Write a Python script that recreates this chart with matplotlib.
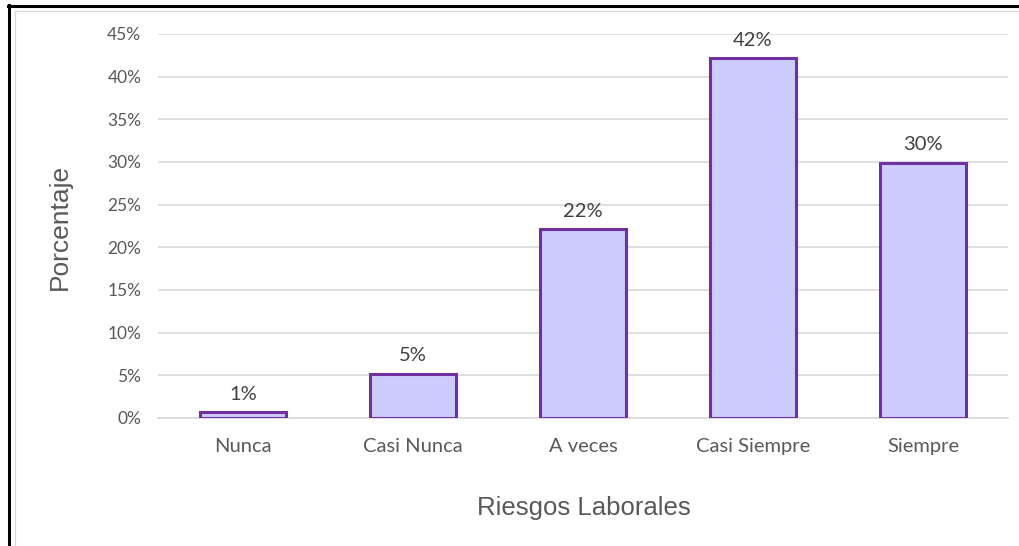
import numpy as np
import matplotlib
matplotlib.use("Agg")
import matplotlib.pyplot as plt
from matplotlib.lines import Line2D
from matplotlib.patches import Rectangle
from matplotlib.ticker import FuncFormatter, MultipleLocator

#====================================================================
# Data
categories = ["Nunca", "Casi Nunca", "A veces", "Casi Siempre", "Siempre"]
values     = [0.7, 5.2, 22.1, 42.2, 29.9]   # percent

# Colours
fill_col  = "#CCCCFF"
edge_col  = "#7030A0"
text_col  = "#595959"
grid_col  = "#D9D9D9"

#====================================================================
fig = plt.figure(figsize=(10.20, 5.46), dpi=100)

# frame of the screenshot: black left/top, light grey chart border
fig.add_artist(Line2D([9/1020, 9/1020], [0, 1-5/546], color="black", lw=2.2,
                      transform=fig.transFigure))
fig.add_artist(Line2D([8/1020, 1], [1-6/546, 1-6/546], color="black", lw=2.2,
                      transform=fig.transFigure))
fig.add_artist(Rectangle((15/1020, -0.05), 1.1, 1-11/546+0.05, fill=False,
                         edgecolor="#D9D9D9", lw=1.0, transform=fig.transFigure))

ax = fig.add_axes([158/1020, 1-418/546, 850/1020, 384/546])

x = np.arange(len(categories))
ax.bar(x, values, width=0.51, color=fill_col, edgecolor=edge_col, linewidth=2.2, zorder=3)

for xi, v in zip(x, values):
    ax.text(xi, v + 1.1, f"{v:.0f}%", ha="center", va="bottom",
            fontsize=14.5, color="#404040", family="Lato")

ax.set_xlim(-0.5, len(categories) - 0.5)
ax.set_ylim(0, 45)
ax.yaxis.set_major_locator(MultipleLocator(5))
ax.yaxis.set_major_formatter(FuncFormatter(lambda v, p: f"{v:.0f}%"))
ax.grid(axis="y", color=grid_col, lw=1.2, zorder=0)
ax.set_axisbelow(True)

ax.set_xticks(x)
ax.set_xticklabels(categories)
for lab in ax.get_yticklabels():
    lab.set_family("Lato")
    lab.set_fontsize(12.5)
    lab.set_color(text_col)
for lab in ax.get_xticklabels():
    lab.set_family("Lato")
    lab.set_fontsize(14.5)
    lab.set_color(text_col)
ax.tick_params(axis="both", length=0)
ax.tick_params(axis="x", pad=14.5)
ax.tick_params(axis="y", pad=12)

for spine in ["top", "right", "left"]:
    ax.spines[spine].set_visible(False)
ax.spines["bottom"].set_color(grid_col)
ax.spines["bottom"].set_linewidth(1.2)

fig.text(60/1020, 1-227/546, "Porcentaje", rotation=90, ha="center", va="center",
         fontsize=19, color=text_col, family="Liberation Sans")
fig.text(584/1020, 1-508/546, "Riesgos Laborales", ha="center", va="center",
         fontsize=18.5, color=text_col, family="Liberation Sans")

plt.savefig("out.png", dpi=100)
plt.close(fig)
